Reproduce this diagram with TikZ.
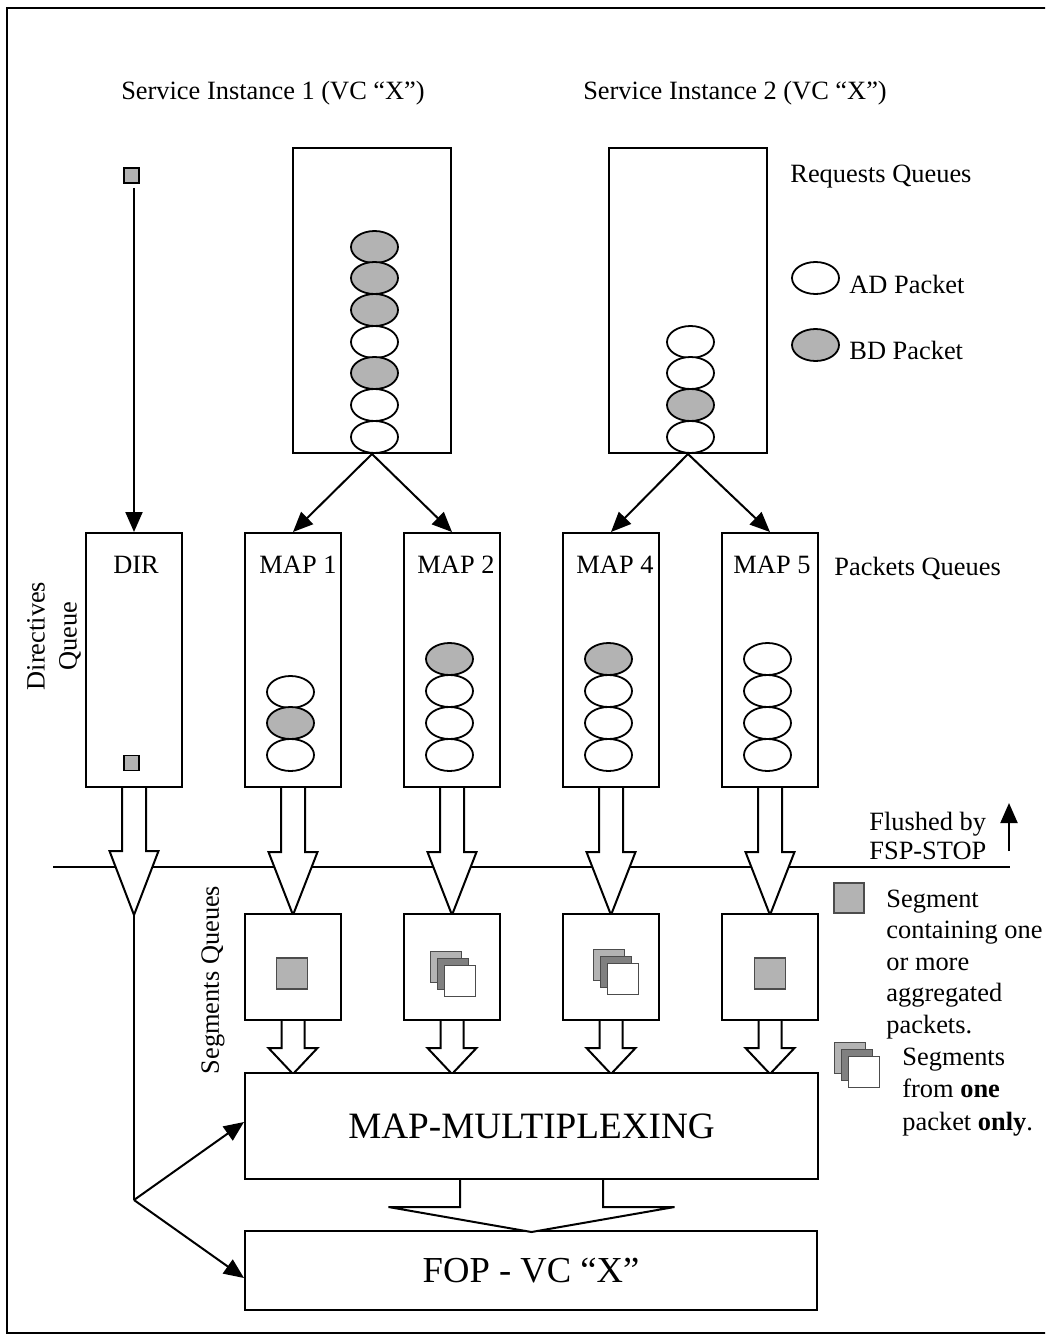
\documentclass[tikz,border=0pt]{standalone}
\usepackage{fontspec}
\setmainfont{Liberation Serif}
\usetikzlibrary{arrows.meta,shapes.geometric,calc}
\definecolor{pkgray}{RGB}{179,179,179}
\definecolor{dkgray}{RGB}{128,128,128}
\newcommand\fatarr[5]{%
  \draw[fat] ($(#1)+(-#2,0)$) -- ++(0,#4) -- ++({#2-#3},0) -- ++(#3,#5) -- ++(#3,-#5) -- ++({#2-#3},0) -- ++(0,-#4);}
\newcommand\segstack[2]{%
  \node[ssq, anchor=north west] (#2a) at ($(#1)+(-22.5,-22.5)$) {};
  \node[ssq, fill=dkgray, anchor=north west] (#2b) at ($(#1)+(-15.5,-15.5)$) {};
  \node[ssq, fill=white, anchor=north west] (#2c) at ($(#1)+(-8.5,-8.5)$) {};}
\begin{document}
\begin{tikzpicture}[x=0.5pt,y=-0.5pt,
  txt/.style={inner sep=0pt, font=\fontsize{13.2}{15.5}\selectfont},
  box/.style={draw, line width=1pt, rectangle, inner sep=0pt, fill=white},
  reqbox/.style={box, minimum width=79pt, minimum height=152.5pt},
  qbox/.style={box, minimum width=48pt, minimum height=127pt},
  sbox/.style={box, minimum width=48pt, minimum height=53pt},
  ad/.style={ellipse, draw, line width=0.9pt, fill=white, minimum width=23.5pt, minimum height=16pt, inner sep=0pt},
  bd/.style={ad, fill=pkgray},
  arr/.style={line width=1pt, -{Triangle[length=10pt,width=8.5pt]}},
  fat/.style={draw, line width=1pt, fill=white, line join=miter},
  sq/.style={rectangle, draw=black!70, line width=0.6pt, fill=pkgray, inner sep=0pt, minimum size=15pt},
  ssq/.style={sq, minimum size=15.5pt},
  dsq/.style={sq, minimum size=7.5pt, draw=black, line width=0.9pt},
]
\useasboundingbox (0,0) rectangle (1045,1338);
\begin{scope}
\clip (0,0) rectangle (1045,1338);
\node[draw, line width=1pt, rectangle, inner sep=0pt, minimum width=523pt, minimum height=662.5pt] (frame) at (530,670.5) {};
\end{scope}

% titles
\node[txt, anchor=base] (si1) at (273,100) {Service Instance 1 (VC “X”)};
\node[txt, anchor=base] (si2) at (735,100) {Service Instance 2 (VC “X”)};
\node[txt, anchor=base west] (rqlab) at (790,183) {Requests Queues};

% legend packets
\node[ad] (adleg) at (815.5,278) {};
\node[txt, anchor=base west] (adtxt) at (849,293) {AD Packet};
\node[bd] (bdleg) at (815.5,345) {};
\node[txt, anchor=base west] (bdtxt) at (849,359) {BD Packet};

% request queues
\node[reqbox] (req1) at (372,300.5) {};
\node[reqbox] (req2) at (688,300.5) {};
\foreach \yy/\st [count=\i] in {247/bd,278/bd,310/bd,342/ad,373/bd,405/ad,437/ad}
  \node[\st] (ra\i) at (374.5,\yy) {};
\foreach \yy/\st [count=\i] in {342/ad,373/ad,405/bd,437/ad}
  \node[\st] (rb\i) at (690.5,\yy) {};

% directive source
\node[dsq] (dsrc) at (131.5,175.5) {};

% packet queues
\node[qbox] (dir) at (134,660) {};
\node[qbox] (map1) at (293,660) {};
\node[qbox] (map2) at (452,660) {};
\node[qbox] (map4) at (611,660) {};
\node[qbox] (map5) at (770,660) {};
\node[txt, anchor=base] (dirlab) at (136,573) {DIR};
\node[txt, anchor=base] (m1lab) at (298,573) {MAP 1};
\node[txt, anchor=base] (m2lab) at (456,573) {MAP 2};
\node[txt, anchor=base] (m4lab) at (615,573) {MAP 4};
\node[txt, anchor=base] (m5lab) at (772,573) {MAP 5};
\node[txt, anchor=base west] (pqlab) at (834,575) {Packets Queues};
\node[txt, rotate=90, align=center, font=\fontsize{13.2}{16}\selectfont] (dqlab) at (54,636) {Directives\\Queue};

\node[dsq] (dinq) at (131.5,763) {};
\foreach \yy/\st [count=\i] in {692/ad,723/bd,755/ad}
  \node[\st] (pa\i) at (290.5,\yy) {};
\foreach \yy/\st [count=\i] in {659/bd,691/ad,723/ad,755/ad}
  \node[\st] (pb\i) at (449.5,\yy) {};
\foreach \yy/\st [count=\i] in {659/bd,691/ad,723/ad,755/ad}
  \node[\st] (pc\i) at (608.5,\yy) {};
\foreach \yy/\st [count=\i] in {659/ad,691/ad,723/ad,755/ad}
  \node[\st] (pd\i) at (767.5,\yy) {};

% thin arrows
\draw[arr, shorten <=2pt] (dsrc.south -| dir.north) -- (dir.north);
\draw[arr] (req1.south) -- (map1.north);
\draw[arr] (req1.south) -- (map2.north);
\draw[arr] (req2.south) -- (map4.north);
\draw[arr] (req2.south) -- (map5.north);

% flush line
\coordinate (hl1) at (53,867);
\coordinate (hl2) at (1010,867);
\draw[line width=1pt] (hl1) -- (hl2);
\coordinate (fa1) at (1009,851);
\coordinate (fa2) at (1009,803);
\draw[arr] (fa1) -- (fa2);
\node[txt, anchor=base west] (fl1) at (869,830) {Flushed by};
\node[txt, anchor=base west] (fl2) at (869,859) {FSP-STOP};

% fat arrows to segment queues
\fatarr{dir.south}{12}{24.5}{63}{64}
\fatarr{map1.south}{12}{24.5}{64}{63}
\fatarr{map2.south}{12}{24.5}{64}{63}
\fatarr{map4.south}{12}{24.5}{64}{63}
\fatarr{map5.south}{12}{24.5}{64}{63}

% segment queues
\node[sbox] (seg1) at (293,967) {};
\node[sbox] (seg2) at (452,967) {};
\node[sbox] (seg4) at (611,967) {};
\node[sbox] (seg5) at (770,967) {};
\node[txt, rotate=90] (sqlab) at (213,980) {Segments Queues};
\node[ssq] (s1sq) at (292,973.5) {};
\node[ssq] (s5sq) at (770,973.5) {};
\segstack{452.5,973.5}{st2}
\segstack{615.5,971}{st4}

\fatarr{seg1.south}{11.5}{24.5}{27}{26}
\fatarr{seg2.south}{11.5}{24.5}{27}{26}
\fatarr{seg4.south}{11.5}{24.5}{27}{26}
\fatarr{seg5.south}{11.5}{24.5}{27}{26}

% segment legend
\node[ssq, minimum size=15pt] (lsq) at (849,898) {};
\node[txt, anchor=base west] (lg1) at (886,907) {Segment};
\node[txt, anchor=base west] (lg2) at (886,938) {containing one};
\node[txt, anchor=base west] (lg3) at (886,970) {or more};
\node[txt, anchor=base west] (lg4) at (886,1001) {aggregated};
\node[txt, anchor=base west] (lg5) at (886,1033) {packets.};
\segstack{856.5,1064}{lst}
\node[txt, anchor=base west] (lh1) at (902,1065) {Segments};
\node[txt, anchor=base west] (lh2) at (902,1097) {from \textbf{one}};
\node[txt, anchor=base west] (lh3) at (902,1130) {packet \textbf{only}.};

% multiplexing and FOP
\node[box, minimum width=286.5pt, minimum height=53pt, font=\fontsize{18.6}{21}\selectfont] (mux) at (531.5,1126) {MAP-MULTIPLEXING};
\node[box, minimum width=286pt, minimum height=39.5pt, font=\fontsize{18.3}{21}\selectfont] (fop) at (531,1270.5) {FOP - VC “X”};
\fatarr{mux.south}{71.5}{143}{27}{25}

% directive path
\coordinate (dtip) at ($(dir.south)+(0,127)$);
\coordinate (dsplit) at (134,1200);
\draw[line width=1pt] (dtip) -- (dsplit);
\draw[arr] (dsplit) -- ($(mux.west)+(0,-4)$);
\draw[arr] (dsplit) -- ($(fop.west)+(0,7.5)$);
\end{tikzpicture}
\end{document}
